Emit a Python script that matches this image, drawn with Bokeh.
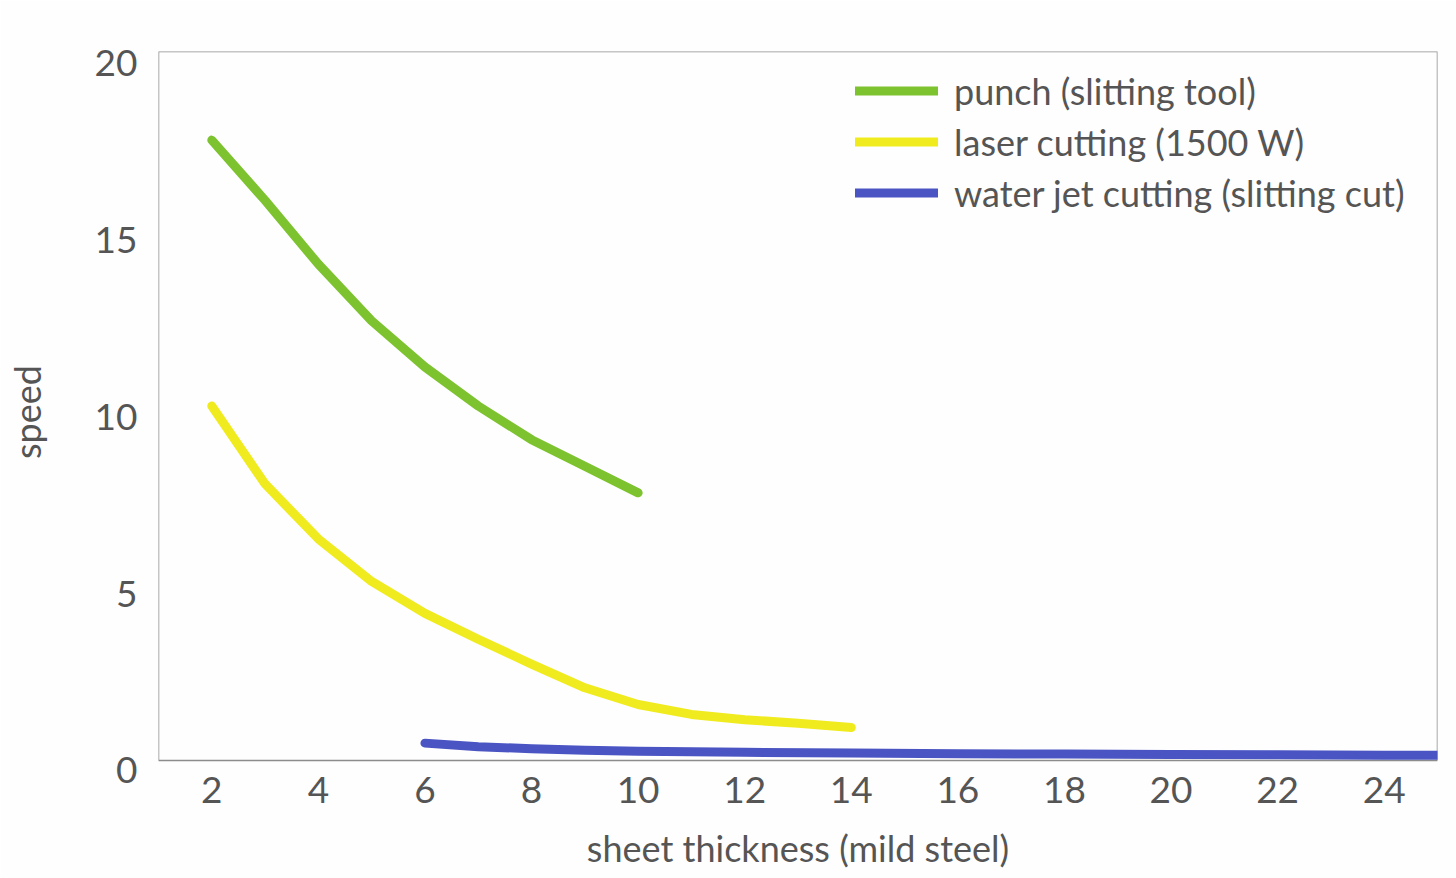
from bokeh.plotting import figure
from bokeh.models import Range1d, FixedTicker, Legend, LegendItem, LinearAxis, BoxAnnotation
from bokeh.embed import file_html
from bokeh.resources import INLINE

# ---- data ----
x_ticks = [2, 4, 6, 8, 10, 12, 14, 16, 18, 20, 22, 24]
y_ticks = [0, 5, 10, 15, 20]

punch_thickness = [2, 3, 4, 5, 6, 7, 8, 9, 10]
punch_speed = [17.5, 15.8, 14.0, 12.4, 11.1, 10.0, 9.05, 8.3, 7.55]

laser_thickness = [2, 3, 4, 5, 6, 7, 8, 9, 10, 11, 12, 13, 14]
laser_speed = [10.0, 7.8, 6.25, 5.05, 4.15, 3.42, 2.72, 2.05, 1.58, 1.3, 1.15, 1.05, 0.93]

waterjet_thickness = [6, 7, 8, 9, 10, 12, 14, 16, 18, 20, 22, 24, 25]
waterjet_speed = [0.49, 0.39, 0.33, 0.29, 0.26, 0.23, 0.21, 0.19, 0.18, 0.17, 0.16, 0.15, 0.15]

labels = ["punch (slitting tool)", "laser cutting (1500 W)", "water jet cutting (slitting cut)"]
colors = ["#7dc22f", "#f0eb1e", "#4a54c2"]

X_MIN, X_MAX = 1, 25
Y_MIN, Y_MAX = 0, 20

FONT = "Lato"
TXT = "#555555"
GRID = "#8c8c8c"
BG = "#fefefe"

# frame runs 12 px below the zero line so that the printed tick labels,
# which sit ~10 px below their nominal values in the reference, can be shown
p = figure(width=1456, height=878, output_backend="svg", toolbar_location=None,
           x_range=Range1d(X_MIN, X_MAX), y_range=Range1d(-0.3385, Y_MAX),
           y_axis_location=None,
           min_border_left=158, min_border_right=19, min_border_top=51, min_border_bottom=106)
p.extra_y_ranges = {"labels": Range1d(-0.0565, 20.311)}

p.background_fill_color = BG
p.border_fill_color = BG
p.outline_line_color = None
p.xgrid.visible = False
p.ygrid.visible = False

# plot box (axis lines on all four sides)
p.add_layout(BoxAnnotation(left=X_MIN, right=X_MAX, bottom=Y_MIN, top=Y_MAX,
                           fill_alpha=0, line_color=GRID, line_alpha=1.0,
                           line_width=1.5, level="underlay"))

yaxis = LinearAxis(y_range_name="labels")
p.add_layout(yaxis, "left")

for ax in (p.xaxis[0], yaxis):
    ax.axis_line_color = None
    ax.major_tick_line_color = None
    ax.minor_tick_line_color = None
    ax.major_tick_out = 0
    ax.major_tick_in = 0
    ax.major_label_text_font = FONT
    ax.major_label_text_font_size = "37px"
    ax.major_label_text_color = TXT
    ax.axis_label_text_font = FONT
    ax.axis_label_text_font_style = "normal"
    ax.axis_label_text_color = TXT
    ax.axis_label_text_font_size = "36px"

p.xaxis.ticker = FixedTicker(ticks=x_ticks)
yaxis.ticker = FixedTicker(ticks=y_ticks)
p.xaxis.axis_label = "sheet thickness (mild steel)"
yaxis.axis_label = "speed"
p.xaxis.major_label_standoff = 4
yaxis.major_label_standoff = 21
p.xaxis.axis_label_standoff = 20
yaxis.axis_label_standoff = 43

r1 = p.line(punch_thickness, punch_speed, line_color=colors[0], line_width=9,
            line_cap="round", line_join="round")
r2 = p.line(laser_thickness, laser_speed, line_color=colors[1], line_width=9,
            line_cap="round", line_join="round")
r3 = p.line(waterjet_thickness, waterjet_speed, line_color=colors[2], line_width=9,
            line_cap="round", line_join="round")

legend = Legend(items=[LegendItem(label=labels[0], renderers=[r1]),
                       LegendItem(label=labels[1], renderers=[r2]),
                       LegendItem(label=labels[2], renderers=[r3])],
                location=(697, 554))
legend.padding = 0
legend.spacing = 0
legend.margin = 0
legend.glyph_width = 83
legend.glyph_height = 51
legend.label_height = 51
legend.label_standoff = 16
legend.label_text_font = FONT
legend.label_text_font_size = "36px"
legend.label_text_color = TXT
legend.background_fill_alpha = 0
legend.border_line_color = None
p.add_layout(legend)

open("out.html", "w").write(file_html(p, INLINE))
